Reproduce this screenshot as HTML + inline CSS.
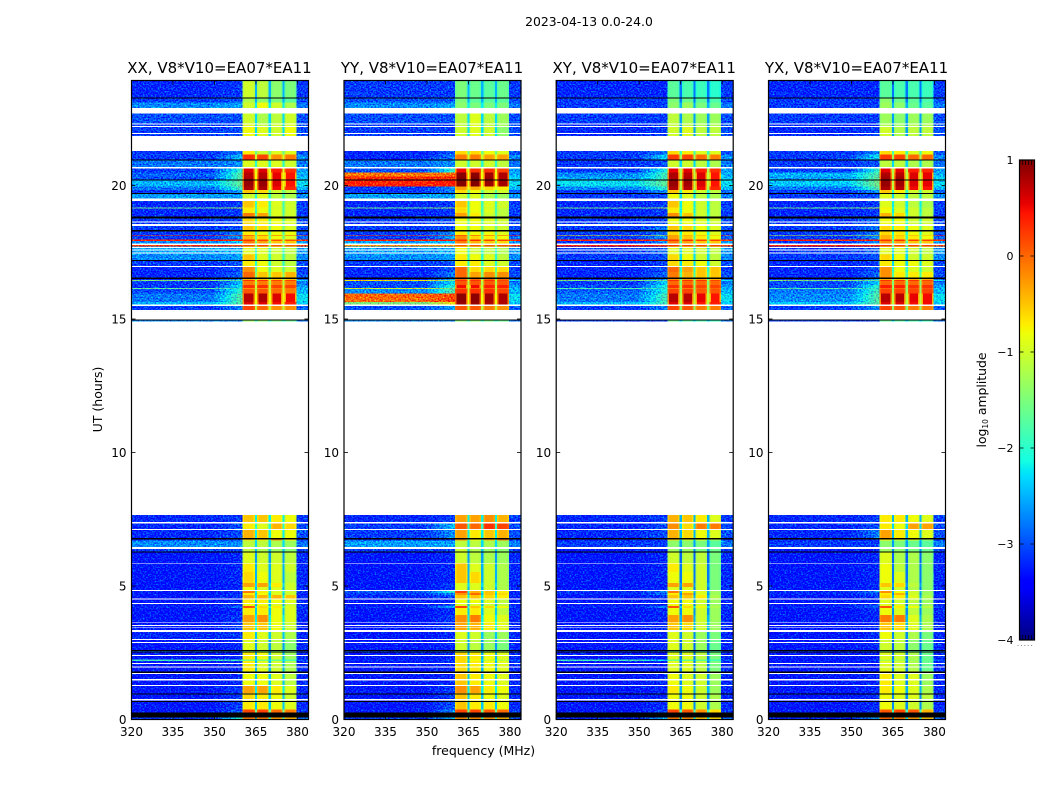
<!DOCTYPE html>
<html lang="en">
<head>
<meta charset="utf-8">
<title>2023-04-13 0.0-24.0</title>
<style>
html,body{margin:0;padding:0;background:#fff;width:1050px;height:800px;overflow:hidden}
svg{display:block}
text{font-family:"DejaVu Sans","Liberation Sans",sans-serif;fill:#000}
</style>
</head>
<body>
<svg id="chart" xmlns="http://www.w3.org/2000/svg" width="1050" height="800" viewBox="0 0 1050 800">
<defs>
<filter id="speckle" filterUnits="userSpaceOnUse" x="0" y="0" width="1050" height="800" color-interpolation-filters="sRGB">
<feTurbulence type="fractalNoise" baseFrequency="0.6 0.7" numOctaves="1" seed="7" result="n"/>
<feColorMatrix in="n" type="matrix" values="0 0 0 0 0.55  1 0 0 0 0  0 0 0 0 0.55  0 0 0 0 1" result="g"/>
<feComposite in="SourceGraphic" in2="g" operator="arithmetic" k1="0" k2="1" k3="1.6" k4="-0.88" result="m"/>
<feComposite in="m" in2="SourceAlpha" operator="in"/>
</filter>
</defs>
<text x="589" y="26" font-size="12.4" text-anchor="middle">2023-04-13 0.0-24.0</text>
<text transform="translate(102,399.5) rotate(-90)" font-size="12.5" text-anchor="middle">UT (hours)</text>
<text x="483.5" y="755" font-size="12.5" text-anchor="middle">frequency (MHz)</text>
<text transform="translate(986,400) rotate(-90)" font-size="12.4" text-anchor="middle">log<tspan font-size="7.5" dy="2">10</tspan><tspan dy="-2"> amplitude</tspan></text>
</svg>
<script>
// ---- axis ticks and labels
const panelNames = ['XX', 'YY', 'XY', 'YX'];
const baselineName = 'V8*V10=EA07*EA11';
const freqTicks = [320, 335, 350, 365, 380];
const utTicks = [0, 5, 10, 15, 20];
const colorTicks = [-4, -3, -2, -1, 0, 1];

// ---- top UT edge (hours) of each time row; last row ends at 0 h
const rowTopUT = [23.93,23.26,23.10,22.90,22.70,22.30,22.19,21.85,21.29,21.16,20.94,20.64,20.48,20.33,20.21,19.96,19.83,19.68,19.42,19.17,19.13,18.97,18.76,18.56,18.50,18.27,18.15,18.12,17.97,17.93,17.77,17.72,17.41,17.17,16.94,16.76,16.50,16.46,16.42,16.27,16.16,16.12,15.96,15.64,15.49,15.34,14.95,14.90,7.66,7.38,7.10,6.80,6.70,6.47,6.25,5.86,5.52,5.11,4.96,4.81,4.74,4.66,4.51,4.33,4.25,4.18,3.91,3.65,3.35,3.28,3.01,2.60,2.52,2.25,2.19,1.82,1.25,0.99,0.73,0.37,0.29,0.07];

// ---- per-row log10 amplitude: [320-350, 360, subband1..4]; null = no data
const xxRows = [
[-3.1,-3,-1,-1.1,-1.4,-1.5],[-3,-2.9,-1.2,-1.4,-1.5,-1.7],[-2.6,-2.5,-1,-.8,-1,-1.2],null,[-2.9,-2.9,-1,-1.2,-1.1,-1],[-3,-2.9,-.9,-1.1,-1,-.9],[-3,-2.9,-.8,-.9,-1,-.8],null,
[-3,-2.8,-.7,-1,-.9,-.9],[-3,-2.4,.3,.2,-.2,-.1],[-2.7,-2.6,-.9,-.9,-.9,-1],[-3,-2,.6,.6,.4,.3],[-2.8,-1.8,.75,.75,.55,.45],[-2.9,-1.8,.8,.8,.55,.45],[-2.4,-1.7,.9,.9,.6,.45],[-2.7,-1.9,.8,.8,.5,.35],
[-3,-2.5,-.5,-.6,-1,-1.1],[-2.5,-2.5,-1,-.9,-1.1,-1.2],[-3.1,-3,-.5,-.7,-.9,-1],[-1.6,-1.2,-.7,-.8,-1,-1],[-3.1,-3,-.7,-.8,-.9,-1],[-3.1,-3,-.1,-.3,-.9,-1],[-3,-2.9,-.6,-.7,-.8,-.9],[-1.6,-1.3,.2,.2,.1,.1],
[-3,-2.9,-.5,-.6,-.8,-.9],[-3,-2.6,-.7,-.8,-.8,-.8],[.3,.3,.3,.2,.2,.2],[-3,-2.6,-.4,-.6,-.8,-.9],[.3,.3,.3,.2,.1,.1],[-2.6,-2.3,-.1,-.3,-.5,-.5],[.2,.2,.2,.2,.1,.1],[-2.5,-2.4,-.9,-.9,-1,-1.1],
[-2.6,-2.5,-.5,-.9,-1,-1.1],[-3,-2.9,-.7,-.8,-1,-1.1],[-3.1,-2.9,-.2,-.8,-.9,-1],[-3.1,-2.8,0,-.5,-.5,-.4],[-3.1,-2.6,-.4,-.5,-.5,-.5],[-1.5,-1.8,.3,.3,.2,.2],[-3,-2.4,-.1,-.1,-.1,-.1],[-3,-2.2,.3,.3,.2,.2],
[-1.7,-2,-.2,-.2,-.1,-.1],[-2.9,-2,.1,.1,0,-.1],[-2.7,-1.8,.75,.8,.6,.5],[-2.4,-1.8,.6,.6,.5,.4],[-3,-2.7,.2,0,-.2,-.2],null,[-2.6,-2.6,-1.3,-1.4,-1.5,-1.6],null,
[-3.1,-3,-.5,-.5,-.7,-.8],[-3.1,-2.9,-.7,-.9,-.4,-.6],[-3.1,-2.9,-.4,-.5,-.8,-.8],[-3.1,-3,-.6,-.7,-.2,-.7],[-2.6,-2.6,-1.1,-1.1,-1.2,-1.3],[-3,-3,-1.1,-1.2,-1.3,-1.4],[-3.2,-3.1,-.9,-1,-1,-1.1],[-3.2,-3.1,-.7,-.9,-.9,-1],
[-3.2,-3.1,-.6,-.8,-.9,-1.1],[-3.2,-3.1,-.3,-.3,-.7,-1],[-3.2,-3.1,-.8,-.9,-.9,-1],[-3.2,-3,-.1,-.7,-.9,-1],[-3.2,-3.1,-.7,-.8,-.9,-1],[-3.2,-3,-.4,-.4,-.4,-.5],[-3.2,-3.1,-.7,-.7,-.8,-.9],[-3.2,-3,-.8,-.8,-.9,-1],
[-3.1,-2.8,.1,-.6,-.7,-.9],[-3.2,-3.1,-.7,-.7,-.8,-.9],[-3.2,-3,-.3,-.2,-.8,-.9],[-3.2,-3,-.5,-.5,-.8,-1],[-3.2,-3.1,-.8,-.9,-1,-1.1],[-3.1,-3,-.7,-.9,-1,-1.2],[-3.2,-3.1,-.9,-1,-1.1,-1.4],[-2.8,-2.8,-1.4,-1.4,-1.5,-1.5],
[-3.2,-3.1,-.7,-.8,-1,-1.3],[-1.9,-1.9,-1.5,-1.5,-1.6,-1.8],[-3.2,-3.1,-.7,-.9,-1,-1.2],[-3.2,-3.1,-.8,-.8,-.9,-1.1],[-3.2,-3,-.3,-.3,-.7,-.9],[-3.2,-3,-.6,-.7,-.8,-1],[-3.2,-3,-.7,-.7,-.8,-.9],[-3.2,-2.9,.2,.2,0,-.1],
[-3.2,-2.9,.2,.2,0,-.1],[-3,-2,-.1,-.1,-.3,-.4]
];
const yyRows = [
[-3,-3,-1.5,-1.6,-1.7,-1.6],[-2.9,-2.9,-1.5,-1.7,-1.7,-1.7],[-2.6,-2.5,-1.4,-1.5,-1.5,-1.5],null,[-2.9,-2.9,-1.1,-.9,-1.1,-1.3],[-3,-3,-1.1,-.9,-1.1,-1.3],[-3,-3,-1,-.9,-1,-1.4],null,
[-3.1,-2.9,-.6,-.6,-.8,-.9],[-3.1,-2.7,-.1,-.1,-.3,-.3],[-2.7,-2.6,-1,-1,-1,-1.1],[-2.9,-2,.5,.3,.3,.2],[-.2,-.1,.95,.95,.85,.8],[.25,.3,1,1,.9,.8],[.3,.35,1,1,.9,.85],[-3,-2.6,-.3,-.4,-.6,-.7],
[-3,-2.7,-.6,-.8,-1,-1],[-2.5,-2.5,-1,-.9,-1.2,-1.3],[-3.1,-3,-.5,-.8,-.9,-1],[-1.6,-1.3,-.7,-.8,-1,-1],[-3.1,-3,-.6,-.8,-.9,-1.1],[-3.1,-3,-.3,-.7,-1,-1.1],[-3,-2.9,-.8,-.8,-.9,-1],[-3,-1.5,0,0,-.1,-.2],
[-3,-2.9,-.8,-.8,-.9,-1],[-3,-2.6,-.7,-.8,-.8,-.9],[.2,.2,.3,.3,.2,.2],[-3,-2.5,-.2,-.6,-.7,-.8],[.3,.3,.3,.3,.2,.2],[-2.5,-2.3,-.1,-.4,-.5,-.6],[-.3,-.3,.1,.1,.1,.1],[-2.5,-2.4,-.8,-1,-1.1,-1.2],
[-2.6,-2.5,-.7,-.8,-.9,-1.1],[-3,-2.9,-.7,-.7,-.9,-1],[-3.1,-2.9,0,-.6,-.6,-.6],[-3.1,-2.7,0,-.3,-.2,-.2],[-3.1,-2.5,0,0,0,0],[-.8,-1.5,.3,.3,.3,.2],[-2.9,-2.2,.1,.1,.1,.1],[-2.9,-2,.5,.5,.4,.4],
[-1,-1.6,0,0,0,0],[-2.6,-1.8,.3,.3,.3,.2],[-.1,.1,.95,.95,.85,.8],[-1.5,-.8,.9,.9,.8,.8],[-2.9,-2.5,.1,.1,-.1,-.2],null,[-2.6,-2.6,-1.4,-1.4,-1.5,-1.6],null,
[-3.1,-3,-.3,-.3,-.2,-.4],[-3,-2.4,.1,0,.3,.2],[-3,-2.6,-.3,-.7,-.5,-.4],[-3.1,-3,-.2,-.8,-.4,-.1],[-2.5,-2.5,-1.1,-1.1,-1.2,-1.3],[-3,-3,-1,-1.2,-1.3,-1.4],[-3.2,-3.1,-1,-1.1,-1.2,-1.3],[-3.2,-3.1,-.5,-.9,-1,-1.2],
[-3.2,-3.1,-.5,-.6,-1,-1.2],[-3.2,-3,-.9,-.9,-1,-1.2],[-3.2,-3,-.9,-.9,-1,-1.2],[-2.9,-2,.2,-.4,-.5,-.7],[-3,-2.6,-.2,0,-.5,-.6],[-3.1,-2.9,-.5,-.5,-.6,-.7],[-3.2,-3.1,-.8,-.8,-.9,-1.1],[-3.2,-2.9,-.9,-.9,-1,-1.1],
[-3.1,-2.4,.2,-.5,-.6,-.8],[-3.2,-3.1,-.7,-.7,-.9,-1.1],[-3.2,-3,-.2,-.1,-.8,-.9],[-3.2,-3,-.3,-.4,-.7,-.9],[-3.2,-3.1,-.8,-.9,-1.2,-1.1],[-3.2,-3.1,-.9,-1,-1.3,-1.3],[-3.2,-3.1,-1,-1.1,-1.3,-1.5],[-2.9,-2.9,-1.3,-1.3,-1.4,-1.4],
[-3.2,-3.1,-.6,-.7,-.8,-.9],[-3.1,-3,-.6,-.8,-1,-1.1],[-3.2,-3.1,-.6,-.7,-.8,-.9],[-3.2,-3.1,-.5,-.7,-.8,-.9],[-3.2,-3,-.2,-.3,-.7,-.8],[-3.2,-3,-.5,-.7,-.8,-.9],[-3.2,-2.9,-.5,-.7,-.7,-.8],[-3.2,-2.6,.2,.2,.1,0],
[-3.2,-2.6,.2,.2,.1,0],[-3,-2.4,-.2,-.2,-.3,-.4]
];
const xyRows = [
[-3.1,-3.1,-1.7,-1.8,-1.9,-2],[-3,-3,-1.5,-1.6,-1.7,-1.8],[-3,-3,-1.4,-1.3,-1.5,-1.6],null,[-3,-3,-1.1,-1.2,-1.3,-1.3],[-3.1,-3,-1.1,-1.1,-1.2,-1.2],[-3.1,-3,-1,-.9,-1.1,-1.1],null,
[-3,-2.8,-.6,-.7,-.9,-.9],[-3,-2.3,.25,.2,0,-.1],[-3,-2.9,-1,-1,-1.1,-1.2],[-3,-2.1,.55,.55,.4,.3],[-2.6,-1.9,.8,.75,.6,.45],[-2.5,-1.9,.8,.8,.6,.45],[-2.2,-1.7,.9,.85,.6,.45],[-2.6,-2,.8,.75,.5,.35],
[-3,-2.6,-.5,-.7,-1,-1.1],[-3,-2.9,-.8,-.9,-1.1,-1.2],[-3.1,-3,-.5,-.8,-1,-1.1],[-1.6,-1.3,-.7,-.8,-1,-1.1],[-3.1,-3,-.7,-.8,-1,-1.1],[-3.1,-3,-.2,-.5,-1,-1.1],[-3,-2.9,-.8,-.8,-.9,-1],[-2.4,-1.8,.1,.1,0,0],
[-3,-2.7,-.5,-.6,-.8,-.9],[-3,-2.7,-.6,-.7,-.8,-.9],[-.7,-.7,-.3,-.3,-.3,-.4],[-3,-2.6,-.3,-.5,-.7,-.8],[.3,.3,.3,.3,.2,.2],[-3,-2.6,-.1,-.3,-.5,-.5],[.3,.3,.3,.2,.2,.2],[-3,-2.8,-.9,-.9,-1,-1.1],
[-3,-2.9,-.6,-.8,-1,-1.1],[-3.1,-3,-.6,-.7,-.8,-1],[-3.1,-2.9,0,-.3,-.5,-.5],[-3.1,-2.8,-.1,-.4,-.5,-.5],[-3.1,-2.6,-.2,-.3,-.3,-.4],[-1.5,-1.7,.3,.3,.3,.2],[-3,-2.3,0,0,0,0],[-2.9,-2.1,.3,.3,.2,.2],
[-1.8,-2,-.1,-.1,0,0],[-2.8,-2.1,.2,.2,.1,.1],[-2.7,-1.9,.75,.75,.55,.45],[-2.4,-1.9,.6,.6,.45,.4],[-3,-2.7,.2,.1,-.1,-.1],null,[-3,-3,-1.6,-1.7,-1.8,-1.9],null,
[-3.1,-3,-.4,-.5,-.7,-.9],[-3.1,-2.9,-.2,-.6,-.1,-.1],[-3.1,-2.9,-.4,-.6,-.8,-.9],[-3.2,-3,-.6,-.9,-.9,-1.2],[-3,-3,-1.4,-1.4,-1.5,-1.7],[-3.2,-3.2,-1.3,-1.3,-1.5,-1.6],[-3.2,-3.1,-1,-1.1,-1.1,-1.5],[-3.2,-3.1,-.7,-.9,-1,-1.5],
[-3.2,-3.1,-.8,-.8,-1,-1.5],[-3.2,-3.1,-.3,-.3,-1,-1.5],[-3.2,-3.1,-.9,-.9,-1,-1.5],[-3.1,-2.6,-.1,-.7,-.9,-1.3],[-3.1,-2.8,-.7,-.3,-.9,-1.3],[-3.2,-3,-.5,-.5,-.7,-1.2],[-3.2,-3.1,-.8,-.8,-1,-1.3],[-3.2,-3.1,-.8,-.8,-1,-1.3],
[-3.1,-2.7,.1,-.6,-.8,-1.2],[-3.2,-3.1,-.8,-.8,-1,-1.3],[-3.2,-3.1,-.3,-.2,-1,-1.3],[-3.2,-3.1,-.5,-.6,-1,-1.3],[-3.2,-3.1,-.9,-.9,-1.2,-1.4],[-3.2,-3.1,-.9,-1,-1.3,-1.5],[-3.2,-3.1,-.9,-1,-1.3,-1.6],[-3,-3,-1.7,-1.7,-1.8,-1.9],
[-3.2,-3.2,-.9,-.9,-1.1,-1.5],[-1.9,-2.3,-1.6,-1.6,-1.7,-1.9],[-3.2,-3.2,-.9,-.9,-1.1,-1.5],[-3.2,-3.1,-.8,-.9,-1,-1.3],[-3.2,-3.1,-.7,-.8,-1,-1.3],[-3.2,-3.1,-.8,-.8,-1,-1.2],[-3.2,-3.1,-.8,-.8,-1,-1.2],[-3.2,-3,.2,.1,-.2,-.6],
[-3.2,-3,.2,.1,-.2,-.6],[-3.1,-2.4,-.1,-.2,-.5,-.6]
];
const yxRows = [
[-3.1,-3.1,-1.7,-1.8,-1.8,-1.9],[-3,-3,-1.4,-1.6,-1.7,-1.8],[-3,-3,-1.3,-1.4,-1.6,-1.7],null,[-3,-3,-1.3,-1.4,-1.3,-1.3],[-3.1,-3,-1.2,-1.3,-1.2,-1.2],[-3.1,-3,-1,-1.2,-1.1,-1.1],null,
[-3,-2.7,-.6,-.7,-.9,-.8],[-3,-2.2,.25,.2,0,0],[-3,-2.9,-1.1,-1.1,-1.2,-1.2],[-3,-2,.55,.55,.4,.35],[-2.4,-1.8,.8,.75,.6,.55],[-2.5,-1.7,.85,.85,.6,.55],[-2.3,-1.6,.9,.85,.6,.55],[-2.7,-1.8,.8,.75,.5,.45],
[-3,-2.6,-.5,-.7,-1,-1],[-3,-2.9,-.9,-1,-1.1,-1.1],[-3.1,-3,-.9,-1,-1.1,-1.2],[-1.6,-1.2,-.7,-.9,-1,-1.1],[-3.1,-3,-.8,-.9,-1,-1.1],[-3.1,-3,-.4,-.6,-1,-1.1],[-3,-2.8,-.8,-.8,-1,-1],[-2,-1.5,.1,.1,0,0],
[-3,-2.7,-.6,-.7,-.8,-.9],[-3,-2.7,-.6,-.7,-.8,-.9],[-1,-.8,-.4,-.4,-.3,-.4],[-3,-2.6,-.4,-.6,-.7,-.8],[.3,.3,.3,.3,.2,.2],[-3,-2.6,-.2,-.3,-.5,-.5],[.3,.3,.3,.2,.2,.2],[-3,-2.8,-.9,-.9,-1,-1.1],
[-3,-2.9,-.6,-.8,-1,-1],[-3.1,-3,-.7,-.8,-.8,-.9],[-3.1,-2.9,-.2,-.8,-.9,-1],[-3.1,-2.8,-.2,-.7,-.7,-.7],[-3.1,-2.5,-.4,-.5,-.4,-.4],[-1.5,-1.7,.3,.3,.3,.2],[-2.9,-2.3,0,0,0,0],[-2.9,-2,.4,.4,.3,.3],
[-1.8,-2,0,0,.1,.1],[-2.7,-1.9,.2,.2,.2,.2],[-2.6,-1.8,.75,.75,.55,.5],[-2.3,-1.8,.6,.6,.5,.5],[-3,-2.6,.2,.1,-.1,-.1],null,[-3,-3,-1.6,-1.7,-1.8,-1.9],null,
[-3.1,-3,-.7,-.7,-.8,-.9],[-3.1,-2.9,-.7,-.8,-.3,-.3],[-3.1,-2.7,-.3,-.7,-.8,-.9],[-3.2,-3,-.7,-.9,-.9,-1.3],[-3,-3,-1.4,-1.5,-1.6,-1.7],[-3.2,-3.2,-1.3,-1.4,-1.5,-1.6],[-3.2,-3.1,-.9,-1.2,-1.2,-1.4],[-3.2,-3.1,-.8,-1.1,-1.2,-1.4],
[-3.2,-3.1,-.8,-.9,-1.2,-1.4],[-3.2,-3.1,-.5,-.6,-1.1,-1.4],[-3.2,-3.1,-.9,-1,-1.2,-1.4],[-3.1,-2.7,-.2,-.8,-1,-1.3],[-3.1,-2.9,-.7,-.4,-1,-1.3],[-3.2,-3,-.6,-.7,-.9,-1.2],[-3.2,-3.1,-.9,-1,-1.1,-1.3],[-3.2,-2.9,-.9,-.9,-1.1,-1.3],
[-3.1,-2.8,.1,-.7,-.8,-1.1],[-3.2,-3.1,-.8,-.9,-1.1,-1.3],[-3.2,-3.1,-.1,-.1,-.9,-1.2],[-3.2,-3.1,-.5,-.6,-.9,-1.2],[-3.2,-3.1,-.8,-.9,-1.2,-1.4],[-3.2,-3.1,-.8,-1,-1.2,-1.5],[-3.2,-3.1,-1,-1.1,-1.4,-1.6],[-3,-3,-1.5,-1.6,-1.7,-1.8],
[-3.2,-3.2,-.9,-1,-1.2,-1.6],[-3.2,-3,-1.2,-1.2,-1.3,-1.6],[-3.2,-3.2,-.9,-1,-1.2,-1.6],[-3.2,-3.1,-.7,-.9,-.9,-1.3],[-3.2,-3.1,-.7,-.8,-.9,-1.2],[-3.2,-3.1,-.8,-.9,-.9,-1.1],[-3.2,-3.1,-.8,-.9,-1,-1.2],[-3.2,-3,.1,.2,.1,-.4],
[-3.2,-3,.1,.2,.1,-.4],[-3.1,-2.5,0,-.1,-.3,-.5]
];
const panelRows = [xxRows, yyRows, xyRows, yxRows];

// ---- log10 amplitude of the gaps between subbands, and of 380-384 MHz, per row (shared)
const gapLevels = [-2.5,-2.5,-2.2,-2.3,-2.3,-2.3,-2.3,-2.3,-1.6,-1,-2,-.9,-.8,-.8,-.8,-.9,-1.7,-2,-1.9,-1.6,-1.9,-1.7,-1.8,-1,-1.6,-1.8,-1,-1.6,-1,-1.5,-1,-2,-2,-2,-1.7,-1.5,-1.5,-.8,-1.2,-1,-1.2,-1,-.8,-.9,-1.1,-2,-2,-2,-2.2,-2,-2.2,-2,-2.3,-2.4,-2.6,-2.5,-2.5,-2.3,-2.5,-2.2,-2.4,-2.2,-2.4,-2.5,-2,-2.4,-2.2,-2.2,-2.5,-2.4,-2.6,-2.6,-2.5,-2.3,-2.5,-2.4,-2.2,-2.4,-2.4,-1.6,-1.6,-1.9];
const rightLevels = [-3,-2.9,-2.7,-2.9,-2.9,-2.9,-2.9,-2.9,-2.9,-2.6,-2.7,-2.5,-2.4,-2.3,-2.2,-2.4,-2.8,-2.6,-3,-2.8,-3,-3,-2.9,-2.5,-2.9,-2.9,.2,-2.8,.2,-2.5,.1,-2.5,-2.6,-2.9,-3,-2.9,-2.8,-2.2,-2.7,-2.5,-2.3,-2.4,-2.2,-2.3,-2.8,-2.9,-2.7,-2.9,-3,-2.9,-2.9,-3,-2.7,-3,-3.1,-3.1,-3.1,-3.1,-3.1,-3.1,-3.1,-3.1,-3.1,-3.1,-3,-3.1,-3.1,-3.1,-3.1,-3.1,-3.1,-3,-3.1,-2.9,-3.1,-3.1,-3.1,-3.1,-3.1,-3,-3,-2.8];
const crossGapOffset = -0.3;

// ---- UT ranges [top, bottom] of flagged (white) and very low (black) integrations
const blankRanges = [[22.33,22.29],[22.23,22.19],[21.96,21.92],[20.69,20.64],[19.51,19.42],[18.66,18.61],[18.55,18.49],[17.83,17.77],[17.70,17.66],[17.61,17.57],[17.50,17.46],[16.99,16.95],[15.54,15.49],[7.39,7.35],[7.13,7.10],[6.47,6.39],[5.87,5.84],[4.85,4.81],[4.54,4.50],[4.36,4.33],[3.64,3.61],[3.54,3.51],[3.45,3.42],[3.36,3.28],[3.01,2.98],[2.90,2.87],[2.42,2.38],[2.12,2.08],[1.98,1.94],[1.74,1.70],[1.51,1.47],[1.29,1.25],[0.76,0.72]];
const lowRanges = [[23.30,23.26],[20.98,20.94],[20.23,20.19],[19.71,19.68],[18.83,18.76],[18.33,18.27],[17.21,17.17],[16.55,16.50],[14.99,14.95],[6.79,6.75],[6.29,6.25],[2.60,2.57],[2.54,2.51],[1.79,1.75],[0.98,0.94],[0.69,0.66],[0.26,0.07]];

// ---- frequency layout of the receiver subbands (MHz)
const subbandEdges = [[360.2,364.6],[365.4,369.6],[370.4,374.6],[375.4,379.6]];
const freqBreaks = [320, 350, 360.2, 379.6, 384];
const rampSteps = 5;

// ---- geometry
const svg = document.getElementById('chart');
const NS = 'http://www.w3.org/2000/svg';
const panelLeft = [131.5, 344, 556.2, 768.5];
const panelWidth = 177, frameTop = 80.5, frameBottom = 719.5;
const xScale = (mhz, left) => left + (mhz - 320) * panelWidth / 64;
const yScale = (ut) => frameBottom - ut * 26.7;

function jetChannel(t, pts) {
  for (let i = 1; i < pts.length; i++) {
    if (t <= pts[i][0]) {
      const a = pts[i - 1], b = pts[i];
      return a[1] + (b[1] - a[1]) * (t - a[0]) / (b[0] - a[0]);
    }
  }
  return pts[pts.length - 1][1];
}
function colorOf(level) {
  const t = Math.max(0, Math.min(1, (level + 4) / 5));
  const r = jetChannel(t, [[0,0],[.35,0],[.66,1],[.89,1],[1,.5]]);
  const g = jetChannel(t, [[0,0],[.125,0],[.375,1],[.64,1],[.91,0],[1,0]]);
  const b = jetChannel(t, [[0,.5],[.11,1],[.34,1],[.65,0],[1,0]]);
  return 'rgb(' + Math.round(r * 255) + ',' + Math.round(g * 255) + ',' + Math.round(b * 255) + ')';
}
function make(tag, attrs, parent) {
  const node = document.createElementNS(NS, tag);
  for (const k in attrs) node.setAttribute(k, attrs[k]);
  parent.appendChild(node);
  return node;
}
function cell(parent, x0, x1, y0, y1, fill) {
  const r = make('rect', {x: x0, y: y0, width: x1 - x0, height: y1 - y0, fill: fill, 'shape-rendering': 'crispEdges'}, parent);
  
  
  return r;
}

panelRows.forEach(function (rows, p) {
  const left = panelLeft[p];
  const right = left + panelWidth;
  const panel = make('g', {}, svg);
  
  

  const quiet = make('g', {filter: 'url(#speckle)'}, panel);
  
  
  const band = make('g', {}, panel);
  
  
  const gapShift = p >= 2 ? crossGapOffset : 0;

  rows.forEach(function (row, i) {
    if (!row) return;
    const y0 = yScale(rowTopUT[i]);
    const y1 = yScale(i + 1 < rowTopUT.length ? rowTopUT[i + 1] : 0);
    const gap = gapLevels[i] + gapShift;
    cell(quiet, xScale(freqBreaks[0], left), xScale(freqBreaks[1], left), y0, y1, colorOf(row[0]));
    for (let k = 0; k < rampSteps; k++) {
      const f0 = freqBreaks[1] + (freqBreaks[2] - freqBreaks[1]) * k / rampSteps;
      const f1 = freqBreaks[1] + (freqBreaks[2] - freqBreaks[1]) * (k + 1) / rampSteps;
      const mix = (k + 1) / rampSteps;
      cell(quiet, xScale(f0, left), xScale(f1, left), y0, y1, colorOf(row[0] + (row[1] - row[0]) * mix));
    }
    cell(quiet, xScale(freqBreaks[3], left), xScale(freqBreaks[4], left), y0, y1, colorOf(rightLevels[i]));
    cell(band, xScale(freqBreaks[2], left), xScale(freqBreaks[3], left), y0, y1, colorOf(gap));
    subbandEdges.forEach(function (edges, s) {
      const level = row[2 + s];
      const a = xScale(edges[0], left), b = xScale(edges[1], left);
      cell(band, a, b, y0, y1, colorOf(level > 0.4 ? level - 0.9 : level - 0.15));
      cell(band, a + 1.5, b - 1.5, y0, y1, colorOf(level));
    });
  });

  blankRanges.forEach(function (range) {
    const r = make('rect', {x: left, y: yScale(range[0]), width: panelWidth, height: yScale(range[1]) - yScale(range[0]), fill: '#fff', 'shape-rendering': 'crispEdges'}, panel);
    
    
  });
  lowRanges.forEach(function (range) {
    const r = make('rect', {x: left, y: yScale(range[0]), width: panelWidth, height: yScale(range[1]) - yScale(range[0]), fill: '#000', 'shape-rendering': 'crispEdges'}, panel);
    
    
  });

  const frame = make('rect', {x: left, y: frameTop, width: panelWidth, height: frameBottom - frameTop, fill: 'none', stroke: '#000', 'stroke-width': 1.2}, panel);
  
  

  const title = make('text', {x: left + panelWidth / 2 - 0.5, y: 73, 'font-size': 15, 'text-anchor': 'middle'}, panel);
  title.textContent = panelNames[p] + ', ' + baselineName;
  
  

  freqTicks.forEach(function (mhz) {
    const x = xScale(mhz, left);
    const t1 = make('line', {x1: x, x2: x, y1: frameBottom, y2: frameBottom - 4, stroke: '#000', 'stroke-width': 0.8}, panel);
    
    
    const t2 = make('line', {x1: x, x2: x, y1: frameTop, y2: frameTop + 4, stroke: '#000', 'stroke-width': 0.8}, panel);
    
    
    const lab = make('text', {x: x, y: 736, 'font-size': 12, 'text-anchor': 'middle'}, panel);
    lab.textContent = String(mhz);
    
    
  });
  utTicks.forEach(function (ut) {
    const y = yScale(ut);
    const t1 = make('line', {x1: left, x2: left + 4, y1: y, y2: y, stroke: '#000', 'stroke-width': 0.8}, panel);
    
    
    const t2 = make('line', {x1: right, x2: right - 4, y1: y, y2: y, stroke: '#000', 'stroke-width': 0.8}, panel);
    
    
    const lab = make('text', {x: left - 5, y: y + 4.5, 'font-size': 12, 'text-anchor': 'end'}, panel);
    lab.textContent = String(ut);
    
    
  });
});

// ---- colour bar
const barX = 1019.5, barW = 15, barTop = 160, barBottom = 640;
const barScale = (level) => barBottom - (level + 4) * (barBottom - barTop) / 5;
const colorbar = make('g', {}, svg);


for (let k = 0; k < 240; k++) {
  const level = -4 + k * 5 / 240;
  const s = make('rect', {x: barX, y: barScale(level + 5 / 240), width: barW, height: (barBottom - barTop) / 240 + 0.3, fill: colorOf(level + 2.5 / 240), 'shape-rendering': 'crispEdges'}, colorbar);
  
  
}
const barFrame = make('rect', {x: barX, y: barTop, width: barW, height: barBottom - barTop, fill: 'none', stroke: '#000', 'stroke-width': 1.2}, colorbar);


colorTicks.forEach(function (level) {
  const y = barScale(level);
  const t1 = make('line', {x1: barX, x2: barX + 4, y1: y, y2: y, stroke: '#000', 'stroke-width': 0.8}, colorbar);
  
  
  const t2 = make('line', {x1: barX + barW, x2: barX + barW - 4, y1: y, y2: y, stroke: '#000', 'stroke-width': 0.8}, colorbar);
  
  
  const lab = make('text', {x: barX - 6, y: y + 4, 'font-size': 11, 'text-anchor': 'end'}, colorbar);
  lab.textContent = level < 0 ? '\u2212' + Math.abs(level) : String(level);
  
  
});
[barTop, barBottom - 5].forEach(function (y) {
  const minor = make('line', {x1: barX, x2: barX + barW, y1: y + 2.5, y2: y + 2.5, stroke: '#000', 'stroke-width': 5, 'stroke-dasharray': '0.7 2.2'}, colorbar);
  
  
});
const dots = make('line', {x1: barX - 2, x2: barX + barW, y1: 645.5, y2: 645.5, stroke: '#888', 'stroke-width': 1, 'stroke-dasharray': '1 2.4'}, colorbar);


</script>
</body>
</html>
